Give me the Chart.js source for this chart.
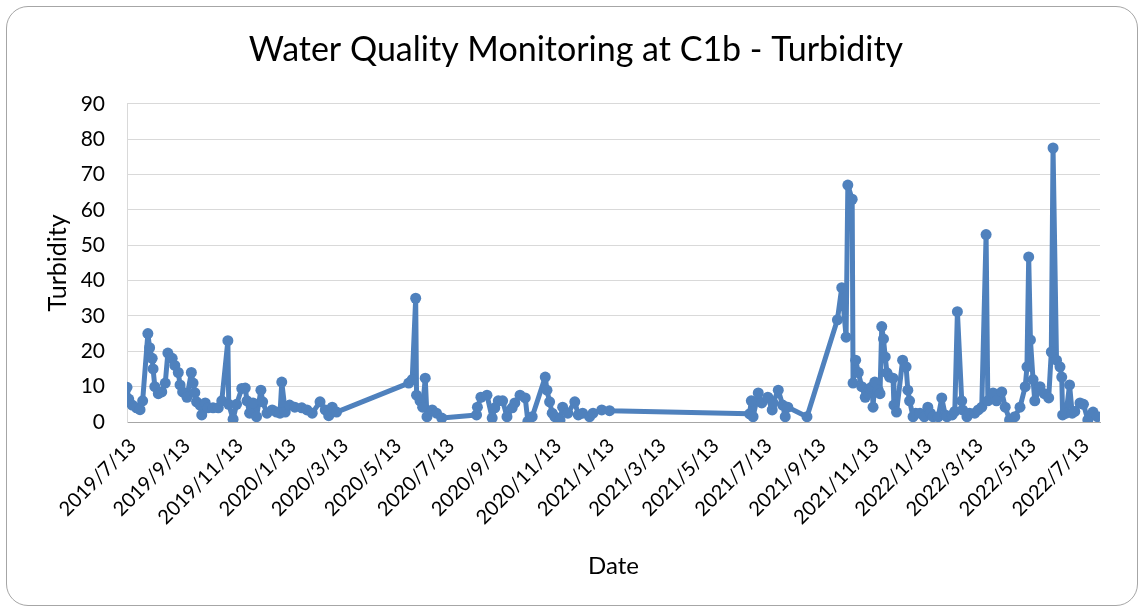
<!DOCTYPE html>
<html>
<head>
<meta charset="utf-8">
<script src="https://cdn.jsdelivr.net/npm/chart.js@4.4.1/dist/chart.umd.min.js"></script>
<style>
  html, body { margin: 0; padding: 0; background: #fff; }
  #wrap { position: relative; width: 1145px; height: 613px; }
  #frame {
    position: absolute; left: 6px; top: 6px; width: 1132px; height: 600px;
    border: 1px solid #a6a6a6; border-radius: 22px; box-sizing: border-box;
  }
  canvas { position: absolute; left: 0; top: 0; }
</style>
</head>
<body>
<div id="wrap">
  <div id="frame"></div>
  <canvas id="chart" width="1145" height="613"></canvas>
</div>
<script>
const sampleDates = [
  '2019-07-13','2019-07-15','2019-07-19','2019-07-24','2019-07-28','2019-07-31','2019-08-06','2019-08-08',
  '2019-08-11','2019-08-12','2019-08-14','2019-08-18','2019-08-22','2019-08-26','2019-08-29','2019-09-03',
  '2019-09-06','2019-09-10','2019-09-12','2019-09-15','2019-09-20','2019-09-25','2019-09-27','2019-09-29',
  '2019-10-01','2019-10-05','2019-10-07','2019-10-11','2019-10-14','2019-10-20','2019-10-26','2019-10-30',
  '2019-11-06','2019-11-07','2019-11-12','2019-11-16','2019-11-22','2019-11-26','2019-11-28','2019-12-01',
  '2019-12-05','2019-12-09','2019-12-14','2019-12-16','2019-12-21','2019-12-27','2020-01-01','2020-01-05',
  '2020-01-07','2020-01-11','2020-01-16','2020-01-22','2020-01-30','2020-02-05','2020-02-11','2020-02-20',
  '2020-02-26','2020-03-01','2020-03-05','2020-03-10','2020-06-01','2020-06-05','2020-06-09','2020-06-10',
  '2020-06-14','2020-06-17','2020-06-20','2020-06-22','2020-06-28','2020-07-03','2020-07-09','2020-08-18',
  '2020-08-19','2020-08-23','2020-08-30','2020-09-05','2020-09-08','2020-09-12','2020-09-17','2020-09-22',
  '2020-09-28','2020-10-01','2020-10-07','2020-10-13','2020-10-16','2020-10-21','2020-11-05','2020-11-07',
  '2020-11-10','2020-11-13','2020-11-16','2020-11-22','2020-11-25','2020-12-01','2020-12-09','2020-12-13',
  '2020-12-18','2020-12-26','2020-12-30','2021-01-09','2021-01-18','2021-06-28','2021-06-30','2021-07-02',
  '2021-07-08','2021-07-12','2021-07-19','2021-07-24','2021-07-25','2021-07-31','2021-08-05','2021-08-08',
  '2021-08-11','2021-09-02','2021-10-07','2021-10-12','2021-10-17','2021-10-19','2021-10-24','2021-10-25',
  '2021-10-28','2021-10-31','2021-11-04','2021-11-08','2021-11-11','2021-11-13','2021-11-16','2021-11-17',
  '2021-11-19','2021-11-23','2021-11-25','2021-11-27','2021-11-29','2021-12-01','2021-12-03','2021-12-06',
  '2021-12-10','2021-12-11','2021-12-14','2021-12-21','2021-12-25','2021-12-27','2021-12-29','2022-01-02',
  '2022-01-05','2022-01-10','2022-01-15','2022-01-19','2022-01-22','2022-01-25','2022-01-31','2022-02-04',
  '2022-02-08','2022-02-10','2022-02-16','2022-02-19','2022-02-22','2022-02-27','2022-02-28','2022-03-05',
  '2022-03-08','2022-03-14','2022-03-18','2022-03-22','2022-03-27','2022-03-29','2022-04-04','2022-04-08',
  '2022-04-14','2022-04-18','2022-04-23','2022-04-29','2022-05-05','2022-05-11','2022-05-13','2022-05-15',
  '2022-05-17','2022-05-20','2022-05-22','2022-05-28','2022-06-02','2022-06-07','2022-06-10','2022-06-12',
  '2022-06-16','2022-06-20','2022-06-22','2022-06-23','2022-06-27','2022-07-01','2022-07-04','2022-07-07',
  '2022-07-13','2022-07-17','2022-07-22','2022-07-28','2022-08-02'
];

const turbidity = [
  9.8, 6.5, 4.8, 4.0, 3.5, 6.0, 25, 21,
  18, 15, 10, 8, 8.5, 11, 19.5, 18,
  16, 14, 10.5, 8.5, 7, 14, 11, 8.3,
  5.7, 4.8, 2, 5.4, 4, 4, 4, 6,
  23, 5, 0.8, 5, 9.5, 9.6, 6, 2.5,
  5.4, 1.5, 9, 5.7, 2.5, 3.4, 2.8, 2.5,
  11.3, 2.8, 4.8, 4.2, 4, 3.4, 2.5, 5.7,
  3.4, 1.8, 4.2, 2.8, 11, 12, 35, 7.6,
  6, 4.2, 12.4, 1.5, 3.4, 2.5, 1.1, 2,
  4.2, 7, 7.6, 1.1, 4, 6, 6, 1.5,
  4, 5.4, 7.6, 6.8, 0.2, 1.5, 12.7, 9,
  5.7, 2.5, 1.5, 0.6, 4.2, 2.5, 5.7, 2,
  2.5, 1.5, 2.5, 3.4, 3.2, 2.3, 6, 1.5,
  8.2, 5.4, 7, 3.4, 5.4, 9, 4.8, 1.5,
  4.2, 1.5, 28.9, 38, 24, 67, 63, 11,
  17.5, 14, 10, 7, 8.2, 9.5, 10, 4.2,
  11.3, 9, 8, 27, 23.5, 18.4, 13.9, 12.7,
  12.4, 4.8, 2.8, 17.5, 15.6, 9, 6, 1.5,
  2.5, 2.5, 1.5, 4.2, 2.5, 1.5, 1.5, 6.8,
  2, 1.5, 2, 3, 31.2, 6, 3.4, 1.5,
  2.5, 2.5, 3.4, 4.2, 53, 6, 8.2, 6,
  8.5, 4.2, 0.6, 1.5, 4.2, 10, 15.6, 46.7,
  23.2, 12, 6, 10, 8, 6.8, 19.8, 77.5,
  17.5, 15.6, 12.7, 2, 2.5, 10.5, 2.5, 3,
  5.4, 5, 0.6, 2.8, 1.5
];

const tickLabels = [
  '2019/7/13','2019/9/13','2019/11/13','2020/1/13','2020/3/13','2020/5/13','2020/7/13',
  '2020/9/13','2020/11/13','2021/1/13','2021/3/13','2021/5/13','2021/7/13','2021/9/13',
  '2021/11/13','2022/1/13','2022/3/13','2022/5/13','2022/7/13'
];

const axisStart = '2019/7/13';
const axisEnd = '2022/8/5';

function toDay(str) {
  const p = str.split(/[-\/]/).map(Number);
  return Date.UTC(p[0], p[1] - 1, p[2]) / 86400000;
}

const points = sampleDates.map((d, i) => ({ x: toDay(d), y: turbidity[i] }));
const tickValues = tickLabels.map(toDay);

const FONT = "Lato, 'Open Sans', sans-serif";
const BLUE = '#4f81bd';

new Chart(document.getElementById('chart'), {
  type: 'line',
  data: {
    datasets: [{
      label: 'Turbidity',
      data: points,
      borderColor: BLUE,
      backgroundColor: BLUE,
      borderWidth: 5,
      borderJoinStyle: 'round',
      borderCapStyle: 'round',
      pointRadius: 5.5,
      pointBorderWidth: 0,
      pointBackgroundColor: BLUE,
      tension: 0
    }]
  },
  options: {
    responsive: false,
    animation: false,
    // left/right padding keeps the title centred on the whole chart box
    layout: { padding: { left: 52, right: 45, top: 0, bottom: 0 } },
    plugins: {
      legend: { display: false },
      tooltip: { enabled: false },
      title: {
        display: true,
        text: 'Water Quality Monitoring at C1b - Turbidity',
        color: '#000',
        font: { family: FONT, size: 34, weight: 'normal', lineHeight: 1.2 },
        padding: { top: 30, bottom: 33 }
      }
    },
    scales: {
      x: {
        type: 'linear',
        min: toDay(axisStart),
        max: toDay(axisEnd),
        afterBuildTicks: (scale) => { scale.ticks = tickValues.map(v => ({ value: v })); },
        afterFit: (scale) => { scale.height = 191; },
        grid: { display: false },
        border: { display: true, color: '#a6a6a6', width: 1 },
        ticks: {
          autoSkip: false,
          minRotation: 45,
          maxRotation: 45,
          padding: 4,
          labelOffset: 6,
          color: '#000',
          font: { family: FONT, size: 20 },
          callback: (value, index) => tickLabels[index]
        },
        title: {
          display: true,
          text: 'Date',
          color: '#000',
          font: { family: FONT, size: 24, lineHeight: 1.2 },
          padding: { top: 0, bottom: 32 }
        }
      },
      y: {
        min: 0,
        max: 90,
        afterFit: (scale) => { scale.width = 75; },
        grid: { color: '#d9d9d9', lineWidth: 1, drawTicks: false },
        border: { display: true, color: '#d9d9d9', width: 1 },
        ticks: {
          stepSize: 10,
          padding: 22,
          color: '#000',
          font: { family: FONT, size: 21 }
        },
        title: {
          display: true,
          text: 'Turbidity',
          color: '#000',
          font: { family: FONT, size: 25, lineHeight: 1.2 },
          padding: { top: -9, bottom: 0 }
        }
      }
    }
  }
});
</script>
</body>
</html>
